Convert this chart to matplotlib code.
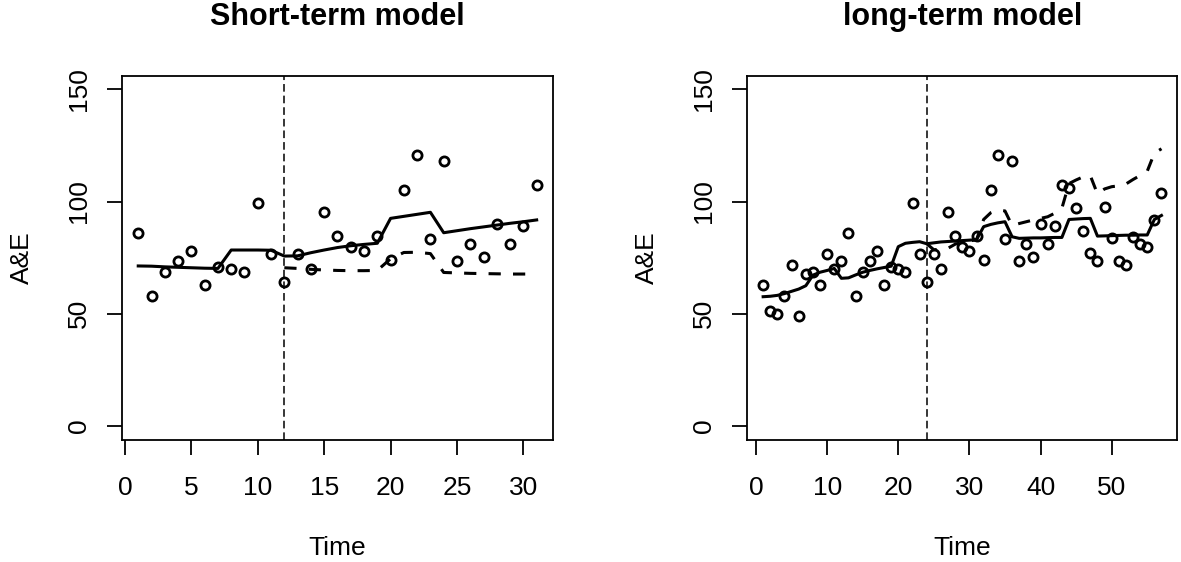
import matplotlib
matplotlib.use("Agg")
import matplotlib.pyplot as plt
import numpy as np

plt.rcParams['font.family'] = ['Liberation Sans', 'DejaVu Sans']

# ---------------- data ----------------
# Short-term model (31 time points)
short_time = list(range(1, 32))
short_obs = [86.1, 57.8, 68.7, 73.6, 78.1, 62.8, 71.0, 70.1, 68.7, 99.2, 76.6, 64.1,
             76.6, 70.0, 95.5, 84.6, 79.6, 78.1, 84.6, 73.9, 105.1, 120.9, 83.2, 118.2,
             73.6, 81.1, 75.1, 89.8, 81.1, 89.1, 107.2]
short_fit = [71.3, 71.2, 70.9, 70.7, 70.5, 70.3, 70.2, 78.4, 78.4, 78.4, 78.3, 75.7,
             75.8, 77.2, 78.4, 79.5, 80.3, 80.9, 81.4, 92.5, 93.4, 94.3, 95.2, 86.1,
             87.0, 87.9, 88.7, 89.5, 90.3, 91.0, 91.8]
short_cf_time = list(range(12, 32))
short_cf = [70.5, 70.2, 69.8, 69.5, 69.3, 69.2, 69.2, 69.3, 74.5, 77.3, 77.4, 76.8,
            68.4, 68.2, 68.0, 67.9, 67.8, 67.7, 67.7, 67.7]
short_intervention = 12

# Long-term model (57 time points)
long_time = list(range(1, 58))
long_obs = [62.8, 51.4, 49.7, 57.8, 71.7, 49.0, 67.6, 68.7, 62.8, 76.6, 70.0, 73.6,
            86.1, 57.8, 68.7, 73.6, 78.1, 62.8, 71.0, 70.1, 68.7, 99.2, 76.6, 64.1,
            76.6, 70.0, 95.5, 84.6, 79.6, 78.1, 84.6, 73.9, 105.1, 120.9, 83.2, 118.2,
            73.6, 81.1, 75.1, 89.8, 81.1, 89.1, 107.2, 105.9, 97.3, 86.9, 76.9, 73.6,
            97.7, 83.9, 73.6, 71.7, 84.3, 81.1, 79.6, 91.8, 103.6]
long_fit = [57.6, 57.8, 58.2, 59.0, 60.0, 61.0, 62.5, 67.2, 68.5, 69.3, 70.2, 65.8,
            66.0, 67.3, 68.5, 69.3, 70.0, 70.6, 71.2, 79.9, 81.4, 81.8, 82.1, 81.2,
            81.6, 82.0, 82.2, 82.4, 82.6, 82.8, 83.0, 88.8, 89.8, 90.5, 91.0, 84.3,
            83.6, 83.7, 83.8, 83.8, 83.9, 84.0, 84.0, 92.0, 92.2, 92.4, 92.5, 84.6,
            84.7, 84.8, 84.9, 85.0, 85.0, 85.1, 85.1, 92.0, 93.8]
long_cf_time = list(range(24, 58))
long_cf = [81.2, 78.5, 78.8, 79.2, 81.0, 81.8, 82.4, 83.0, 92.0, 95.0, 96.2, 95.8,
           89.3, 90.2, 91.0, 91.8, 92.5, 93.2, 94.8, 97.0, 108.0, 109.6, 111.0, 111.5,
           103.4, 105.6, 106.6, 107.0, 107.8, 109.8, 111.6, 113.5, 121.5, 123.5]
long_intervention = 24

y_ticks = [0, 50, 100, 150]
short_xticks = [0, 5, 10, 15, 20, 25, 30]
long_xticks = [0, 10, 20, 30, 40, 50]

# ---------------- figure ----------------
W, H = 1181, 562
fig = plt.figure(figsize=(W / 100, H / 100), dpi=100)

ax_bottom = (H - 439.5) / H
ax_height = (439.5 - 75.8) / H
ax1 = fig.add_axes([122.3 / W, ax_bottom, (552.6 - 122.3) / W, ax_height])
ax2 = fig.add_axes([747.2 / W, ax_bottom, (1177.4 - 747.2) / W, ax_height])


def draw(ax, t, obs, fit, cft, cf, interv, xticks, title, xlim):
    ax.plot(t, obs, linestyle='none', marker='o', markersize=6.6,
            markerfacecolor='none', markeredgecolor='black', markeredgewidth=2.0)
    ax.plot(t, fit, color='black', linewidth=2.2, solid_joinstyle='round')
    ax.plot(cft, cf, color='black', linewidth=2.2, dashes=(4, 4))
    ax.axvline(interv, color='black', linewidth=1.1, dashes=(5, 2.6))
    ax.set_xlim(*xlim)
    ax.set_ylim(-6, 156)
    ax.set_xticks(xticks)
    ax.set_yticks(y_ticks)
    ax.set_yticklabels([str(v) for v in y_ticks], rotation=90, va='center')
    ax.tick_params(axis='both', direction='out', length=10.8, width=1.3,
                   labelsize=19, colors='black')
    ax.tick_params(axis='x', pad=15.6)
    ax.tick_params(axis='y', pad=12)
    for s in ax.spines.values():
        s.set_linewidth(1.3)
    x0, x1 = ax.get_position().x0, ax.get_position().x1
    fig.text((x0 + x1) / 2, (H - 25) / H, title, ha='center', va='baseline',
             fontsize=22, fontweight='bold')
    fig.text((x0 + x1) / 2, 7 / H, 'Time', ha='center', va='baseline', fontsize=19)
    fig.text(x0 - (122.3 - 22) / W, 0.5 * (ax_bottom * 2 + ax_height), 'A&E',
             rotation=90, ha='center', va='center', fontsize=19)


draw(ax1, short_time, short_obs, short_fit, short_cf_time, short_cf,
     short_intervention, short_xticks, 'Short-term model', (-0.2, 32.2))
draw(ax2, long_time, long_obs, long_fit, long_cf_time, long_cf,
     long_intervention, long_xticks, 'long-term model', (-1.24, 59.24))

fig.savefig('out.png', dpi=100)
